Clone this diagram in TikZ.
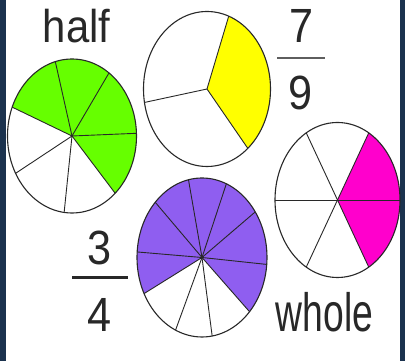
\documentclass[tikz,border=0pt]{standalone}
\usepackage{fontspec}
\setmainfont{Liberation Sans}
\definecolor{navy}{RGB}{27,50,78}
\definecolor{lime}{RGB}{102,255,0}
\definecolor{yel}{RGB}{255,255,0}
\definecolor{mag}{RGB}{255,0,204}
\definecolor{purp}{RGB}{143,94,240}
\definecolor{ink}{RGB}{40,40,40}
\begin{document}
\begin{tikzpicture}[x=1pt,y=1pt,
  outl/.style={draw=ink, line width=1.1pt},
  spoke/.style={draw=ink, line width=0.9pt},
  lbl/.style={text=ink, inner sep=0pt, anchor=base},
  bigtxt/.style={font=\fontsize{48}{48}\selectfont}]
\useasboundingbox (0,0) rectangle (405,361);
\fill[white] (0,0) rectangle (405,361);
\fill[navy] (0,0) rectangle (6,361);
\fill[navy] (400,0) rectangle (405,361);

% green pie
\coordinate (G) at (72,225);
\fill[lime] (G) -- +(158:64.5 and 77) arc[start angle=158, end angle=-48, x radius=64.5, y radius=77] -- cycle;
\foreach \a in {158,105,55,2,-48,-97,209} \draw[spoke] (G) -- +(\a:64.5 and 77);
\draw[outl] (G) ellipse[x radius=64.5, y radius=77];

% yellow pie
\coordinate (Y) at (207,272);
\fill[yel] (Y) -- +(70:63.5 and 77.5) arc[start angle=70, end angle=-50, x radius=63.5, y radius=77.5] -- cycle;
\foreach \a in {70,-50,190} \draw[spoke] (Y) -- +(\a:63.5 and 77.5);
\draw[outl] (Y) ellipse[x radius=63.5, y radius=77.5];

% magenta pie
\coordinate (M) at (337.5,161);
\fill[mag] (M) -- +(60:62.5 and 77.5) arc[start angle=60, end angle=-60, x radius=62.5, y radius=77.5] -- cycle;
\foreach \a in {60,0,-60,120,180,240} \draw[spoke] (M) -- +(\a:62.5 and 77.5);
\draw[outl] (M) ellipse[x radius=62.5, y radius=77.5];

% purple pie
\coordinate (P) at (202,103.5);
\fill[purp] (P) -- +(207:65 and 79.5) arc[start angle=207, end angle=-43, x radius=65, y radius=79.5] -- cycle;
\foreach \a in {207,176,136,102,68,35,-5,-43,-81,246} \draw[spoke] (P) -- +(\a:65 and 79.5);
\draw[outl] (P) ellipse[x radius=65, y radius=79.5];

% labels
\node[lbl, font=\fontsize{46}{46}\selectfont, xscale=0.91] (half) at (76.5,318) {half};
\node[lbl, bigtxt, xscale=0.9] (seven) at (302,318) {7};
\coordinate (b1l) at (277,303);
\coordinate (b1r) at (325,303);
\draw[line width=2pt, draw=ink!75] (b1l) -- (b1r);
\node[lbl, bigtxt, xscale=0.9] (nine) at (301,251) {9};
\node[lbl, bigtxt, xscale=0.9] (three) at (100,96) {3};
\coordinate (b2l) at (72,83);
\coordinate (b2r) at (128,83);
\draw[line width=3pt, draw=ink] (b2l) -- (b2r);
\node[lbl, bigtxt, xscale=0.9] (four) at (100,29) {4};
\node[lbl, font=\fontsize{54}{54}\selectfont, xscale=0.69] (whole) at (324.5,29) {whole};
\end{tikzpicture}
\end{document}
